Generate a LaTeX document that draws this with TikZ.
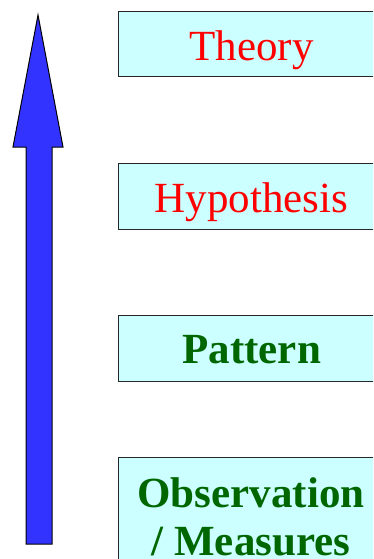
\documentclass[tikz,border=0pt]{standalone}
\usepackage{fontspec}
\setmainfont{Liberation Serif}
\definecolor{boxfill}{RGB}{204,255,255}
\definecolor{thred}{RGB}{255,0,0}
\definecolor{thgreen}{RGB}{0,102,0}
\definecolor{arrowblue}{RGB}{51,51,255}
\begin{document}
\begin{tikzpicture}[x=1pt,y=-1pt,
  levelbox/.style={draw=black!85, line width=1.3pt, fill=boxfill, inner sep=0pt,
    anchor=north west, minimum width=266pt, font=\fontsize{43}{48}\selectfont},
  redtext/.style={text=thred},
  greentext/.style={text=thgreen, font=\fontsize{43}{48}\selectfont\bfseries}]
\useasboundingbox (0,0) rectangle (373,559);
\clip (0,0) rectangle (373,559);
% big upward arrow
\draw[fill=arrowblue, draw=black, line width=1pt, line join=miter]
  (38,15) -- (63,147) -- (52,147) -- (52,544) -- (26,544) -- (26,147) -- (13,147) -- cycle;
% boxes
\node[levelbox, redtext, text height=49pt, text depth=16pt] (theory) at (118,11) {Theory};
\node[levelbox, redtext, text height=49pt, text depth=17pt] (hyp) at (118,163) {Hypothesis};
\node[levelbox, greentext, text height=48pt, text depth=18pt] (pattern) at (118,315) {Pattern};
\node[levelbox, minimum height=160pt] (obs) at (118,457) {};
\node[greentext, anchor=base, inner sep=0pt] (obs1) at (251,507) {Observation};
\node[greentext, anchor=base, inner sep=0pt] (obs2) at (251,555) {/ Measures};
\end{tikzpicture}
\end{document}
